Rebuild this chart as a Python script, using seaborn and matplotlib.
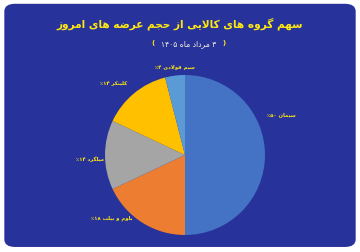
import re
import matplotlib
matplotlib.use("Agg")
import matplotlib.pyplot as plt
import seaborn as sns
from matplotlib.patches import FancyBboxPatch

sns.set_theme(style="white")
plt.rcParams["font.family"] = ["DejaVu Sans"]

# chart data
categories = ["سیمان", "بلوم و بیلت", "میلگرد", "کلینکر", "سیم فولادی"]
shares = [50, 18, 14, 14, 4]
share_labels = ["۵۰", "۱۸", "۱۴", "۱۴", "۴"]
colors = ["#4472C4", "#ED7D31", "#A5A5A5", "#FFC000", "#5B9BD5"]
title = "سهم گروه های کالایی از حجم عرضه های امروز"
subtitle = "۳ مرداد ماه ۱۴۰۵"

# minimal arabic/persian shaping (no libraqm in matplotlib)
FORMS = {
    "ا": (0xFE8D, 0xFE8E, None, None),
    "ب": (0xFE8F, 0xFE90, 0xFE91, 0xFE92),
    "ت": (0xFE95, 0xFE96, 0xFE97, 0xFE98),
    "ج": (0xFE9D, 0xFE9E, 0xFE9F, 0xFEA0),
    "ح": (0xFEA1, 0xFEA2, 0xFEA3, 0xFEA4),
    "د": (0xFEA9, 0xFEAA, None, None),
    "ر": (0xFEAD, 0xFEAE, None, None),
    "ز": (0xFEAF, 0xFEB0, None, None),
    "س": (0xFEB1, 0xFEB2, 0xFEB3, 0xFEB4),
    "ض": (0xFEBD, 0xFEBE, 0xFEBF, 0xFEC0),
    "ع": (0xFEC9, 0xFECA, 0xFECB, 0xFECC),
    "ف": (0xFED1, 0xFED2, 0xFED3, 0xFED4),
    "ل": (0xFEDD, 0xFEDE, 0xFEDF, 0xFEE0),
    "م": (0xFEE1, 0xFEE2, 0xFEE3, 0xFEE4),
    "ن": (0xFEE5, 0xFEE6, 0xFEE7, 0xFEE8),
    "ه": (0xFEE9, 0xFEEA, 0xFEEB, 0xFEEC),
    "و": (0xFEED, 0xFEEE, None, None),
    "ک": (0xFB8E, 0xFB8F, 0xFB90, 0xFB91),
    "گ": (0xFB92, 0xFB93, 0xFB94, 0xFB95),
    "ی": (0xFBFC, 0xFBFD, 0xFBFE, 0xFBFF),
}


def joins_left(c):
    return c in FORMS and FORMS[c][2] is not None


def shape(text):
    res = []
    i = 0
    while i < len(text):
        c = text[i]
        prev_joins = i > 0 and joins_left(text[i - 1])
        if c == "ل" and i + 1 < len(text) and text[i + 1] == "ا":
            res.append(chr(0xFEFC if prev_joins else 0xFEFB))
            i += 2
            continue
        if c not in FORMS:
            res.append(c)
            i += 1
            continue
        nxt = text[i + 1] if i + 1 < len(text) else None
        next_joins = joins_left(c) and nxt in FORMS
        iso, fin, ini, med = FORMS[c]
        if prev_joins and next_joins:
            f = med
        elif prev_joins:
            f = fin
        elif next_joins:
            f = ini
        else:
            f = iso
        res.append(chr(f))
        i += 1
    return "".join(res)


def fa(text):
    s = shape(text)[::-1]
    return re.sub("[۰-۹]+", lambda m: m.group(0)[::-1], s)


fig = plt.figure(figsize=(3.6, 2.52), dpi=100)
fig.patch.set_facecolor("white")

# dark blue panel, kept behind the pie axes
panel = FancyBboxPatch((0.012, 0.02), 0.976, 0.965,
                       boxstyle="round,pad=0,rounding_size=0.03",
                       transform=fig.transFigure, facecolor="#27329A",
                       edgecolor="none", zorder=-5)
fig.patches.append(panel)

fig.text(0.5, 0.905, fa(title), ha="center", va="center", color="#FFE812",
         fontsize=7.6, fontweight="bold")
fig.text(0.525, 0.828, fa(subtitle), ha="center", va="center",
         color="#F2F0D8", fontsize=5.5)
fig.text(0.425, 0.828, "(", ha="center", va="center", color="#FFE812",
         fontsize=5, fontweight="bold")
fig.text(0.622, 0.828, ")", ha="center", va="center", color="#FFE812",
         fontsize=5, fontweight="bold")

ax = fig.add_axes([105 / 360, 17 / 252, 160 / 360, 160 / 252])
ax.set_zorder(2)
ax.patch.set_visible(False)
ax.pie(shares, colors=colors, startangle=90, counterclock=False,
       wedgeprops=dict(linewidth=0))
ax.set_xlim(-1, 1)
ax.set_ylim(-1, 1)
ax.axis("off")

# data label anchors (outside the pie, like the original's best-fit labels)
label_pos = [(1.025, 0.5, "left"), (-0.66, -0.79, "right"),
             (-1.01, -0.06, "right"), (-0.725, 0.91, "right"),
             (0.125, 1.09, "right")]
for cat, val, (x, y, ha) in zip(categories, share_labels, label_pos):
    ax.text(x, y, fa(cat + " " + val + "٪"), ha=ha, va="center",
            color="#FFE812", fontsize=3.8, fontweight="bold")

fig.savefig("out.png", dpi=100, facecolor="white")
